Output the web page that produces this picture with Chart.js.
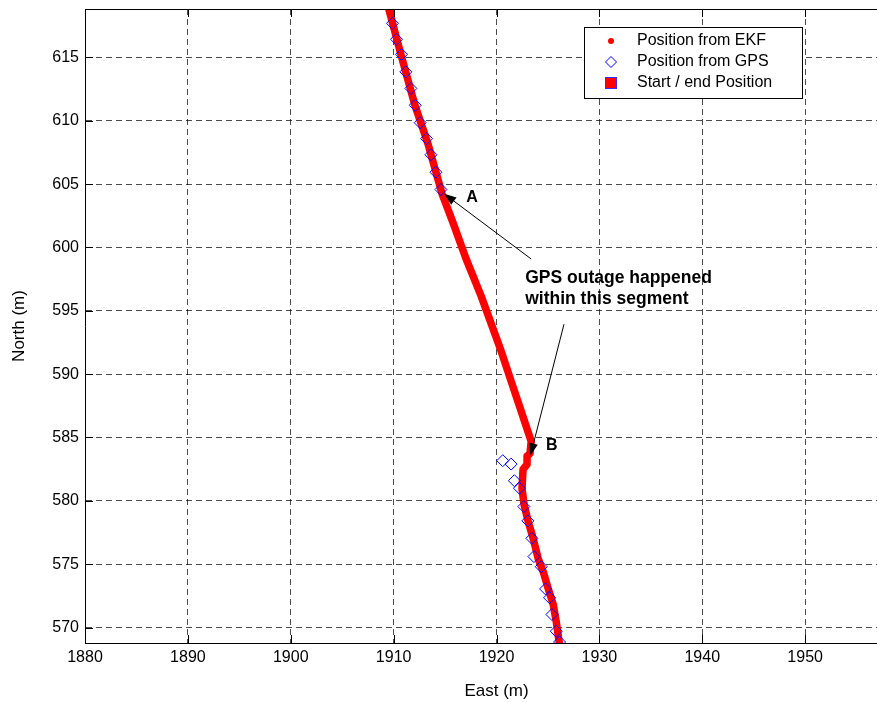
<!DOCTYPE html>
<html>
<head>
<meta charset="utf-8">
<script src="https://cdn.jsdelivr.net/npm/chart.js@4.4.1/dist/chart.umd.min.js"></script>
<style>
html,body{margin:0;padding:0;background:#fff;overflow:hidden;width:877px;height:702px}
#wrap{position:relative;width:915px;height:702px}
</style>
</head>
<body>
<div id="wrap"><canvas id="c"></canvas></div>
<script>
// ---- data ----
const ekfEast  = [1909.53,1910.70,1912.07,1913.33,1914.70,1915.77,1917.04,1918.50,1920.45,1921.42,1922.40,1923.37,1923.26,1922.97,1922.97,1922.58,1922.48,1922.68,1923.08,1923.57,1924.05,1924.54,1925.03,1925.52,1925.81,1926.10];
const ekfNorth = [618.82,615.26,611.22,608.21,604.25,601.96,599.11,596.18,591.82,589.45,587.07,584.70,583.75,583.51,582.88,582.48,580.98,579.71,578.37,577.02,575.44,574.41,573.06,571.80,570.45,568.79];

const gpsEast  = [1909.89,1910.28,1910.77,1911.19,1911.68,1912.10,1912.58,1913.21,1913.63,1914.11,1914.60,1920.61,1921.42,1921.74,1922.23,1922.66,1923.05,1923.44,1923.64,1924.35,1924.77,1925.16,1925.39,1925.81,1926.13];
const gpsNorth = [617.69,616.43,615.24,613.86,612.55,611.22,609.85,608.59,607.32,605.94,604.57,583.17,582.90,581.59,581.00,579.55,578.42,577.04,575.60,574.80,573.05,572.35,571.03,569.71,568.86];

// start / end positions lie outside the zoomed window of the reference
const startEndEast  = [];
const startEndNorth = [];

const seriesNames = ['Position from EKF','Position from GPS','Start / end Position'];
const xTicks = [1880,1890,1900,1910,1920,1930,1940,1950];
const yTicks = [570,575,580,585,590,595,600,605,610,615];
const xRange = [1880,1960];
const yRange = [568.78,618.82];
const xTitle = 'East (m)';
const yTitle = 'North (m)';

// annotation anchors (data coordinates)
const arrowFrom = [[1923.37,599.09],[1926.56,593.94]];
const arrowTo   = [[1914.92,604.23],[1923.30,583.59]];
const pointLabels = ['A','B'];
const pointLabelAt = [[1917.62,603.90],[1925.37,584.38]];
const noteLines = ['GPS outage happened','within this segment'];
const noteAt = [[1922.79,597.57],[1922.79,595.94]];

// ---- build ----
const zip = (xs,ys)=>xs.map((x,i)=>({x:x,y:ys[i]}));
const FONT = "'Liberation Sans', Arial, Helvetica, sans-serif";
Chart.defaults.color = '#000';
Chart.defaults.font.family = FONT;
Chart.defaults.font.size = 16;

const frame = {
  id:'frame',
  afterDraw(chart){
    const {ctx, chartArea:a, scales:{x,y}} = chart;
    ctx.save();
    ctx.strokeStyle = '#000'; ctx.lineWidth = 1;
    ctx.beginPath();
    ctx.moveTo(a.left, a.top+0.5); ctx.lineTo(a.right, a.top+0.5);
    const L = 8;
    xTicks.forEach(v=>{
      const px = Math.round(x.getPixelForValue(v))+0.5;
      ctx.moveTo(px,a.bottom); ctx.lineTo(px,a.bottom-L);
      ctx.moveTo(px,a.top); ctx.lineTo(px,a.top+L);
    });
    yTicks.forEach(v=>{
      const py = Math.round(y.getPixelForValue(v))+0.5;
      ctx.moveTo(a.left,py); ctx.lineTo(a.left+L,py);
      ctx.moveTo(a.right,py); ctx.lineTo(a.right-L,py);
    });
    ctx.stroke();
    ctx.restore();
  }
};

const notes = {
  id:'notes',
  afterDraw(chart){
    const {ctx, scales:{x,y}} = chart;
    ctx.save();
    ctx.strokeStyle = '#000'; ctx.fillStyle = '#000'; ctx.lineWidth = 1;
    arrowFrom.forEach((f,i)=>{
      const x0 = x.getPixelForValue(f[0]), y0 = y.getPixelForValue(f[1]);
      const x1 = x.getPixelForValue(arrowTo[i][0]), y1 = y.getPixelForValue(arrowTo[i][1]);
      const ang = Math.atan2(y1-y0, x1-x0);
      const hl = 12, hw = 4.5;
      const bx = x1 - hl*Math.cos(ang), by = y1 - hl*Math.sin(ang);
      ctx.beginPath(); ctx.moveTo(x0,y0); ctx.lineTo(bx,by); ctx.stroke();
      ctx.beginPath();
      ctx.moveTo(x1,y1);
      ctx.lineTo(bx + hw*Math.sin(ang), by - hw*Math.cos(ang));
      ctx.lineTo(bx - hw*Math.sin(ang), by + hw*Math.cos(ang));
      ctx.closePath(); ctx.fill();
    });
    ctx.font = 'bold 16px ' + FONT;
    ctx.textAlign = 'center'; ctx.textBaseline = 'middle';
    pointLabels.forEach((t,i)=>{
      ctx.fillText(t, x.getPixelForValue(pointLabelAt[i][0]), y.getPixelForValue(pointLabelAt[i][1]));
    });
    ctx.font = 'bold 17.5px ' + FONT;
    ctx.textAlign = 'left';
    noteLines.forEach((t,i)=>{
      ctx.fillText(t, x.getPixelForValue(noteAt[i][0]), y.getPixelForValue(noteAt[i][1]));
    });
    ctx.restore();
  }
};

const legendBox = {
  id:'legendBox',
  afterDraw(chart){
    const {ctx} = chart;
    const bx = 584.5, by = 27.5, bw = 218, bh = 71;
    ctx.save();
    ctx.fillStyle = '#fff'; ctx.fillRect(bx,by,bw,bh);
    ctx.strokeStyle = '#000'; ctx.lineWidth = 1; ctx.strokeRect(bx,by,bw,bh);
    const rows = [41, 62, 83];
    const mx = 611, tx = 637;
    const ds = chart.data.datasets;
    ctx.fillStyle = ds[0].borderColor;
    ctx.beginPath(); ctx.arc(mx, rows[0], 3, 0, Math.PI*2); ctx.fill();
    ctx.strokeStyle = ds[1].pointBorderColor; ctx.lineWidth = 1;
    ctx.beginPath();
    ctx.moveTo(mx, rows[1]-5.5); ctx.lineTo(mx+5.5, rows[1]); ctx.lineTo(mx, rows[1]+5.5); ctx.lineTo(mx-5.5, rows[1]); ctx.closePath(); ctx.stroke();
    ctx.fillStyle = ds[2].pointBackgroundColor; ctx.strokeStyle = ds[2].pointBorderColor;
    ctx.fillRect(mx-5, rows[2]-5, 10, 10); ctx.strokeRect(mx-5.5, rows[2]-5.5, 11, 11);
    ctx.fillStyle = '#000';
    ctx.font = '16px ' + FONT; ctx.textAlign = 'left'; ctx.textBaseline = 'middle';
    ds.forEach((d,i)=>ctx.fillText(d.label, tx, rows[i]));
    ctx.restore();
  }
};

new Chart(document.getElementById('c'), {
  type:'scatter',
  data:{
    datasets:[
      {label:seriesNames[0], data:zip(ekfEast,ekfNorth), showLine:true, borderColor:'#ff0000', backgroundColor:'#ff0000',
       borderWidth:7.5, borderCapStyle:'round', borderJoinStyle:'round', pointRadius:0, clip:0, order:3},
      {label:seriesNames[1], data:zip(gpsEast,gpsNorth), showLine:false, pointStyle:'rectRot', pointRadius:6,
       pointBorderColor:'#0000ff', pointBackgroundColor:'rgba(0,0,0,0)', pointBorderWidth:1, clip:0, order:2},
      {label:seriesNames[2], data:zip(startEndEast,startEndNorth), showLine:false, pointStyle:'rect', pointRadius:7,
       pointBorderColor:'#3030ff', pointBackgroundColor:'#ff0000', pointBorderWidth:1, clip:0, order:1}
    ]
  },
  options:{
    responsive:true, maintainAspectRatio:false, animation:false, devicePixelRatio:1,
    layout:{padding:{top:9,left:0,right:0,bottom:0}},
    plugins:{legend:{display:false}, tooltip:{enabled:false}},
    scales:{
      x:{type:'linear', position:'bottom', min:xRange[0], max:xRange[1],
         afterBuildTicks:s=>{s.ticks = xTicks.map(v=>({value:v}));},
         afterFit:s=>{s.height = 59; s.paddingLeft=0; s.paddingRight=0; s.paddingTop=0; s.paddingBottom=0;},
         ticks:{padding:5, maxRotation:0, autoSkip:false, font:{size:16}, color:'#000', callback:v=>String(v)},
         grid:{color:'rgba(0,0,0,0.7)', lineWidth:1, drawTicks:false},
         border:{display:true, color:'#000', width:1, dash:[6,4]},
         title:{display:true, text:xTitle, font:{size:17}, color:'#000', padding:{top:0,bottom:0.5}}},
      y:{type:'linear', position:'left', min:yRange[0], max:yRange[1],
         afterBuildTicks:s=>{s.ticks = yTicks.map(v=>({value:v}));},
         afterFit:s=>{s.width = 85; s.paddingLeft=0; s.paddingRight=0; s.paddingTop=0; s.paddingBottom=0;},
         ticks:{padding:6, autoSkip:false, font:{size:16}, color:'#000', callback:v=>String(v)},
         grid:{color:'rgba(0,0,0,0.7)', lineWidth:1, drawTicks:false},
         border:{display:true, color:'#000', width:1, dash:[6,4]},
         title:{display:true, text:yTitle, font:{size:17}, color:'#000', padding:{top:9.5,bottom:0}}}
    }
  },
  plugins:[frame, notes, legendBox]
});
</script>
</body>
</html>
